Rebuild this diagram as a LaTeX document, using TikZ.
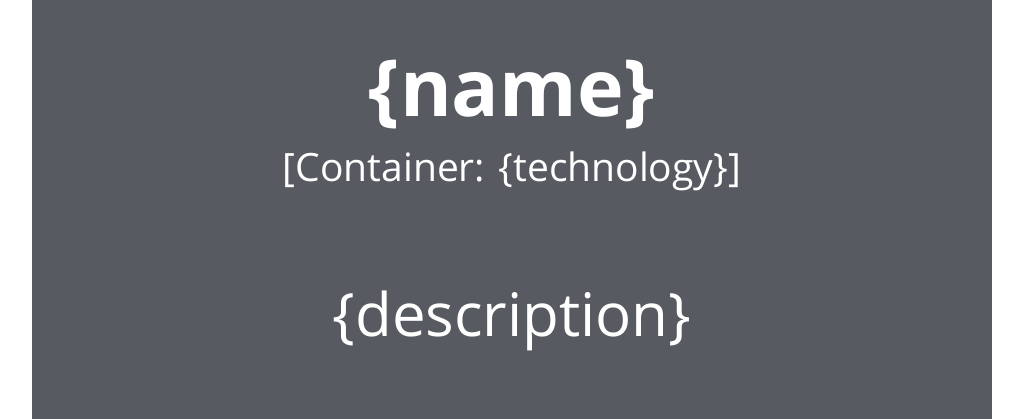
\documentclass[tikz,border=0pt]{standalone}
\usepackage{fontspec}
\setmainfont{Open Sans}
\usetikzlibrary{positioning}
\definecolor{boxgrey}{RGB}{87,90,96}

\begin{document}
\begin{tikzpicture}[
        x=1pt, y=1pt,
        container/.style={
            rectangle,
            fill=boxgrey,
            minimum width=960pt,
            minimum height=419pt,
            inner sep=0pt,
        },
        label/.style={
            text=white,
            inner sep=0pt,
            anchor=base,
        },
    ]

    \useasboundingbox (0,0) rectangle (1013,419);

    \node (box) at (512,209.5) [container] {};

    \node (name) at (512,302) [label] {\fontsize{79}{80}\selectfont\bfseries\{name\}};
    \node (tech) at (512,237) [label] {\fontsize{39}{42}\selectfont[Container: \{technology\}]};
    \node (desc) at (512,82) [label] {\fontsize{60}{64}\selectfont\{description\}};

\end{tikzpicture}
\end{document}
